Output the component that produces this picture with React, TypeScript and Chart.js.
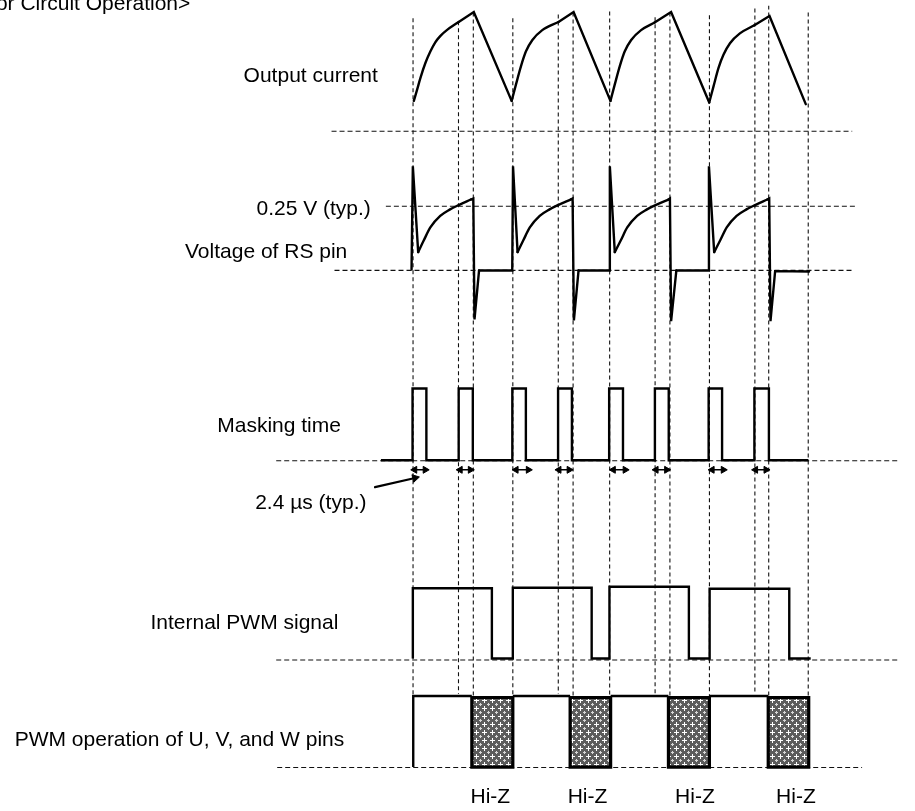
import React, { useEffect, useRef } from "react";
import { Chart, registerables } from "chart.js";

Chart.register(...registerables);

const INK = "#000";
const DASH = "#111";
const FONT = '21px "Liberation Sans", Arial, Helvetica, sans-serif';

// ---- vertical timing markers (time, top level, bottom level)
const markerTimes = [412.5, 458.5, 473.5, 513.5, 559.5, 574.5, 611.5, 657.5, 672.5, 712.5, 758.5, 772.5, 812.5];
const markerTops = [13, 16, 7, 13, 9, 7, 6, 12, 7, 10, 3, 0, 7];
const markerBottoms = [700, 698, 772, 772, 698, 772, 772, 698, 772, 772, 698, 772, 772];

// ---- horizontal reference levels
const refLevels = [127.5, 203.5, 268.5, 461.5, 663.5, 772.5];
const refStarts = [330, 385, 333, 274, 274, 275];
const refEnds = [857, 862, 859, 905, 905, 867];

// ---- Output current
const currentRise = [
  [[413.3, 96.7], [416.7, 85], [420, 73.3], [425, 58.3], [430, 46.7], [435, 37.3], [440, 31], [446.7, 25], [458.7, 16.7]],
  [[512.3, 96.7], [516.7, 80], [521.7, 61.7], [526.7, 46.7], [533.3, 35], [543.3, 25], [559.7, 16.7]],
  [[612.3, 96.7], [616.7, 80], [621.7, 61.7], [626.7, 46.7], [633.3, 35], [643.3, 25], [657, 17.3]],
  [[712.3, 98.3], [716.7, 81.7], [721.7, 63.3], [726.7, 50], [733.3, 38.3], [743.3, 28.3], [758, 20]],
];
const currentPeaks = [[474, 6.7], [575, 6.7], [673.7, 6.7], [773.3, 10.7]];
const currentValleys = [[512.3, 96.7], [612.3, 96.7], [712.3, 98.3], [810, 100]];

// ---- Voltage of RS pin
const rsStart = [411, 267.5];
const rsEnd = [813.3, 269.7];
const rsBaseline = 268.7;
const rsSpikes = [[412.3, 163], [513.7, 163], [611.7, 163], [712, 163]];
const rsCurves = [
  [[417.7, 250], [423.3, 238.3], [430, 225], [440, 213.3], [450, 206.7], [458.7, 202.3], [471, 196.7]],
  [[518.3, 250], [524, 238.3], [530.7, 225], [540.7, 213.3], [550.7, 206.7], [559.3, 202.3], [572, 196.7]],
  [[616.7, 250], [622.7, 238.3], [629.3, 225], [639.3, 213.3], [649.3, 206.7], [658, 202.3], [671, 196.7]],
  [[717.3, 250], [723.3, 238.3], [730, 225], [740, 213.3], [750, 206.7], [758.7, 202.3], [771, 196.7]],
];
const rsTurnOffTops = [[473.5, 195.7], [574, 195.7], [672.5, 195.7], [773, 195.7]];
const rsDrops = [[474.7, 318.3], [575.3, 319.3], [673.7, 320], [774.3, 320]];
const rsReturns = [[479.3, 268.7], [580, 268.7], [679, 268.7], [779, 269.3]];

// ---- Masking time
const maskOn = [412, 458.7, 513, 559.3, 611, 657.3, 711.7, 758];
const maskOff = [426, 473, 526.7, 573.3, 625, 671.3, 725.3, 772.7];
const maskHigh = 388.3;
const maskLow = 461;
const maskStart = 380;
const maskEnd = 812.7;
const maskArrowStarts = [410.7, 456.7, 513.3, 556.7, 611.7, 655, 711.7, 755.7];
const maskArrowEnds = [428.3, 474, 532.7, 574, 630.7, 672.7, 730, 773.3];
const maskArrowLevel = 470.7;
const noteArrowFrom = [374, 488.3];
const noteArrowTo = [414.5, 479];

// ---- Internal PWM signal
const pwmOn = [412.3, 513.5, 611.3, 712.7];
const pwmOff = [492.3, 593.3, 691.7, 793.3];
const pwmHigh = [590.7, 590.3, 589.3, 591.3];
const pwmLow = 662;
const pwmEnd = 815;

// ---- PWM operation of U, V, W pins
const driveStart = 412.7;
const driveLevel = 700;
const offLevel = 772;
const hiZStarts = [472, 571.5, 671, 772];
const hiZEnds = [513.5, 612.5, 712.5, 813];

// ---- Text
const labelTexts = [
  "or Circuit Operation>",
  "Output current",
  "0.25 V (typ.)",
  "Voltage of RS pin",
  "Masking time",
  "2.4 µs (typ.)",
  "Internal PWM signal",
  "PWM operation of U, V, and W pins",
];
const labelX = [187, 241, 254, 181.7, 214.3, 252.7, 146.7, 9.3];
const labelY = [4.5, 77.7, 212.3, 256, 432, 510, 632, 750.5];
const labelAlign = ["right", "left", "left", "left", "left", "left", "left", "left"];
const hiZText = "Hi-Z";
const hiZLabelX = [470.7, 569, 677.7, 780];
const hiZLabelY = 808.3;

const pt = (p: number[]) => ({ x: p[0], y: p[1] });

function line(points: number[][], extra: any = {}) {
  return {
    data: points.map(pt),
    showLine: true,
    borderColor: INK,
    borderWidth: 2.4,
    pointRadius: 0,
    pointHoverRadius: 0,
    fill: false,
    tension: 0,
    borderCapStyle: "round",
    borderJoinStyle: "round",
    ...extra,
  };
}

function makeHatch(): CanvasPattern | string {
  const c = document.createElement("canvas");
  c.width = 8;
  c.height = 8;
  const g = c.getContext("2d");
  if (!g) return "#888";
  g.fillStyle = "#5c5c5c";
  g.fillRect(0, 0, 8, 8);
  g.fillStyle = "#ffffff";
  g.fillRect(4, 2, 1, 5);
  g.fillRect(2, 4, 5, 1);
  g.fillStyle = "#d8d8d8";
  g.fillRect(0, 0, 1, 1);
  g.fillRect(1, 0, 1, 1);
  g.fillRect(0, 1, 1, 1);
  g.fillRect(7, 0, 1, 1);
  g.fillRect(0, 7, 1, 1);
  const p = g.createPattern(c, "repeat");
  return p || "#888";
}

const textPlugin = {
  id: "diagramTexts",
  afterDraw(chart: any) {
    const ctx = chart.ctx;
    const xs = chart.scales.x;
    const ys = chart.scales.y;
    ctx.save();
    ctx.font = FONT;
    ctx.fillStyle = INK;
    ctx.textBaseline = "alphabetic";
    labelTexts.forEach((t, i) => {
      ctx.textAlign = labelAlign[i];
      ctx.fillText(t, xs.getPixelForValue(labelX[i]), ys.getPixelForValue(labelY[i]));
    });
    ctx.textAlign = "left";
    hiZLabelX.forEach((x) => {
      ctx.fillText(hiZText, xs.getPixelForValue(x), ys.getPixelForValue(hiZLabelY));
    });
    ctx.restore();
  },
};

export default function App() {
  const ref = useRef<HTMLCanvasElement | null>(null);

  useEffect(() => {
    if (!ref.current) return;
    const hatch = makeHatch();
    const top: any[] = [];
    const mid: any[] = [];
    const bottom: any[] = [];

    // Output current
    currentRise.forEach((rise, i) => {
      top.push(line(rise, { cubicInterpolationMode: "monotone" }));
      top.push(line([rise[rise.length - 1], currentPeaks[i], currentValleys[i]], { borderJoinStyle: "miter" }));
    });

    // RS pin
    rsSpikes.forEach((sp, i) => {
      const lead =
        i === 0
          ? [rsStart, sp, rsCurves[i][0]]
          : [rsReturns[i - 1], [sp[0] - 0.8, rsBaseline], sp, rsCurves[i][0]];
      top.push(line(lead, { borderJoinStyle: "miter" }));
      top.push(line(rsCurves[i], { cubicInterpolationMode: "monotone" }));
      const tail = [rsCurves[i][rsCurves[i].length - 1], rsTurnOffTops[i], rsDrops[i], rsReturns[i]];
      if (i === rsSpikes.length - 1) tail.push(rsEnd);
      top.push(line(tail, { borderJoinStyle: "miter" }));
    });

    // Masking time
    const mask: number[][] = [[maskStart, maskLow]];
    maskOn.forEach((on, i) => {
      mask.push([on, maskLow], [on, maskHigh], [maskOff[i], maskHigh], [maskOff[i], maskLow]);
    });
    mask.push([maskEnd, maskLow]);
    top.push(line(mask, { borderJoinStyle: "miter", borderCapStyle: "butt" }));

    maskArrowStarts.forEach((a, i) => {
      top.push(
        line(
          [
            [a + 3.5, maskArrowLevel],
            [maskArrowEnds[i] - 3.5, maskArrowLevel],
          ],
          {
            borderWidth: 1.5,
            pointRadius: 4,
            pointStyle: "triangle",
            pointRotation: [270, 90],
            pointBackgroundColor: INK,
            pointBorderColor: INK,
            pointBorderWidth: 1,
          }
        )
      );
    });
    top.push(
      line([noteArrowFrom, noteArrowTo], {
        borderWidth: 2.2,
        pointRadius: [0, 4.5],
        pointStyle: "triangle",
        pointRotation: [0, 77],
        pointBackgroundColor: INK,
        pointBorderColor: INK,
        pointBorderWidth: 1,
      })
    );

    // Internal PWM
    const pwm: number[][] = [[pwmOn[0], pwmLow]];
    pwmOn.forEach((on, i) => {
      pwm.push([on, pwmLow], [on, pwmHigh[i]], [pwmOff[i], pwmHigh[i]], [pwmOff[i], pwmLow]);
    });
    pwm.push([pwmEnd, pwmLow]);
    top.push(line(pwm, { borderJoinStyle: "miter", borderCapStyle: "butt" }));

    // PWM operation of U, V, W
    const drive: number[][] = [[driveStart, offLevel], [driveStart, driveLevel], [hiZStarts[0], driveLevel]];
    top.push(line(drive, { borderJoinStyle: "miter", borderCapStyle: "butt" }));
    hiZStarts.forEach((s, i) => {
      const e = hiZEnds[i];
      if (i < hiZStarts.length - 1) {
        top.push(line([[e, driveLevel], [hiZStarts[i + 1], driveLevel]], { borderCapStyle: "butt" }));
      }
      top.push(
        line([[s, driveLevel + 1.5], [e, driveLevel + 1.5], [e, offLevel], [s, offLevel], [s, driveLevel + 1.5]], {
          borderWidth: 3.2,
          borderJoinStyle: "miter",
          borderCapStyle: "square",
        })
      );
      mid.push(
        line([[s, driveLevel + 1.5], [e, driveLevel + 1.5]], {
          borderWidth: 0,
          borderColor: "rgba(0,0,0,0)",
          fill: { value: offLevel },
          backgroundColor: hatch,
        })
      );
    });

    // dashed guides
    markerTimes.forEach((x, i) => {
      bottom.push(
        line([[x, markerTops[i]], [x, markerBottoms[i]]], {
          borderWidth: 1.1,
          borderColor: DASH,
          borderDash: [4, 3],
          borderCapStyle: "butt",
        })
      );
    });
    refLevels.forEach((y, i) => {
      bottom.push(
        line([[refStarts[i], y], [refEnds[i], y]], {
          borderWidth: 1.1,
          borderColor: DASH,
          borderDash: [5, 3],
          borderCapStyle: "butt",
        })
      );
    });

    const chart = new Chart(ref.current, {
      type: "scatter",
      data: { datasets: [...top, ...mid, ...bottom] },
      options: {
        responsive: false,
        animation: false,
        devicePixelRatio: 1,
        events: [],
        layout: { padding: 0 },
        plugins: {
          legend: { display: false },
          tooltip: { enabled: false },
          title: { display: false },
        },
        scales: {
          x: { type: "linear", min: 0, max: 915, display: false },
          y: { type: "linear", min: 0, max: 811, reverse: true, display: false },
        },
      } as any,
      plugins: [textPlugin],
    } as any);

    return () => chart.destroy();
  }, []);

  return (
    <div style={{ position: "absolute", left: 0, top: 0, width: 915, height: 811, background: "#fff" }}>
      <canvas ref={ref} width={915} height={811} style={{ display: "block", width: 915, height: 811 }} />
    </div>
  );
}
